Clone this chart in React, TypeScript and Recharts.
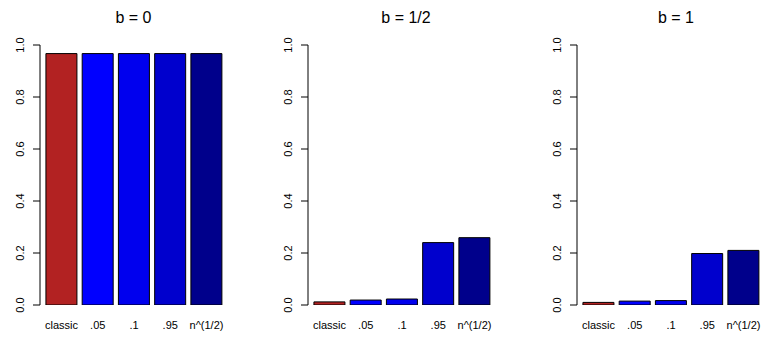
import React from "react";
import { BarChart, Bar, XAxis, YAxis, Cell } from "recharts";

const categories = ["classic", ".05", ".1", ".95", "n^(1/2)"];
const seriesB0 = [0.967, 0.967, 0.967, 0.967, 0.967];
const seriesBHalf = [0.012, 0.019, 0.023, 0.24, 0.259];
const seriesB1 = [0.01, 0.015, 0.017, 0.198, 0.21];
const barColors = ["#B22222", "#0000FF", "#0000EE", "#0000CD", "#00008B"];
const yTicks = [0, 0.2, 0.4, 0.6, 0.8, 1];
const panelTitles = ["b = 0", "b = 1/2", "b = 1"];
const panelSeries = [seriesB0, seriesBHalf, seriesB1];

const FONT = "'Liberation Sans', Arial, sans-serif";
const AXIS_W = 40;
const PLOT_W = 188;
const CHART_W = AXIS_W + PLOT_W;
const CHART_H = 339;
const PLOT_TOP = 45;
const AXIS_BOTTOM = 305;
const panelLeft = [0, 268, 537];
const titleCenter = [133.5, 406, 676];

const YTick = (props: any) => {
  const { x, y, payload } = props;
  const tx = x - 9;
  return (
    <text
      x={tx}
      y={y}
      transform={`rotate(-90, ${tx}, ${y})`}
      textAnchor="middle"
      fontSize={11}
      fontFamily={FONT}
      fill="#000"
    >
      {Number(payload.value).toFixed(1)}
    </text>
  );
};

const XTick = (props: any) => {
  const { x, y, payload } = props;
  return (
    <text x={x} y={y + 24} textAnchor="middle" fontSize={11} fontFamily={FONT} fill="#000">
      {payload.value}
    </text>
  );
};

function Panel({ values }: { values: number[] }) {
  const data = categories.map((c, i) => ({ name: c, value: values[i] }));
  return (
    <BarChart
      width={CHART_W}
      height={CHART_H}
      data={data}
      margin={{ top: PLOT_TOP, right: 0, bottom: 0, left: 0 }}
      barCategoryGap="7%"
    >
      <XAxis
        dataKey="name"
        axisLine={false}
        tickLine={false}
        tickSize={0}
        tickMargin={0}
        height={CHART_H - AXIS_BOTTOM}
        padding={{ left: 3.4, right: 3.4 }}
        tick={<XTick />}
        interval={0}
      />
      <YAxis
        width={AXIS_W}
        domain={[0, 1]}
        ticks={yTicks}
        type="number"
        allowDataOverflow
        axisLine={{ stroke: "#000", strokeWidth: 1 }}
        tickLine={{ stroke: "#000", strokeWidth: 1 }}
        tickSize={7}
        tickMargin={0}
        tick={<YTick />}
        interval={0}
      />
      <Bar dataKey="value" stroke="#000" strokeWidth={1} isAnimationActive={false}>
        {data.map((d, i) => (
          <Cell key={d.name} fill={barColors[i]} />
        ))}
      </Bar>
    </BarChart>
  );
}

export default function App() {
  return (
    <div
      style={{
        position: "absolute",
        left: 0,
        top: 0,
        width: 761,
        height: 339,
        overflow: "hidden",
        background: "#fff",
      }}
    >
      {panelSeries.map((s, i) => (
        <div key={i} style={{ position: "absolute", left: panelLeft[i], top: 0 }}>
          <Panel values={s} />
        </div>
      ))}
      <svg
        width={761}
        height={339}
        style={{ position: "absolute", left: 0, top: 0, pointerEvents: "none" }}
      >
        {panelTitles.map((t, i) => (
          <text
            key={t}
            x={titleCenter[i]}
            y={23}
            textAnchor="middle"
            fontSize={16}
            fontFamily={FONT}
            fill="#000"
          >
            {t}
          </text>
        ))}
      </svg>
    </div>
  );
}
